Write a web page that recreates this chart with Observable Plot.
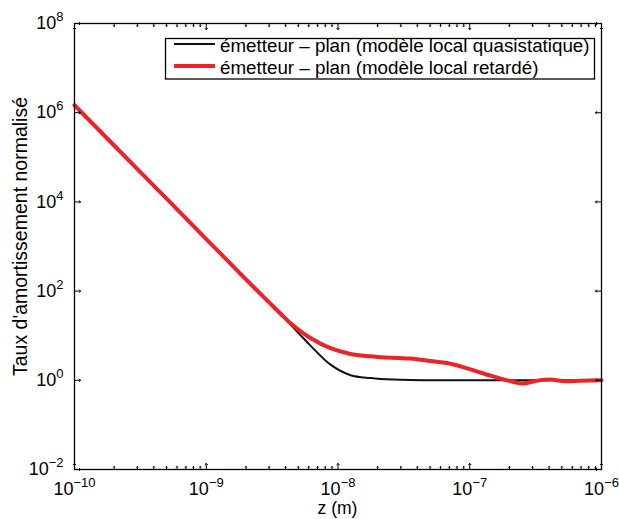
<!DOCTYPE html>
<html>
<head>
<meta charset="utf-8">
<script src="https://cdn.jsdelivr.net/npm/d3@7"></script>
<script src="https://cdn.jsdelivr.net/npm/@observablehq/plot@0.6"></script>
<style>
  body { margin: 0; background: #fff; }
  #wrap { position: relative; width: 619px; height: 519px; overflow: hidden; }
  #wrap svg { position: absolute; left: 0; top: 0; }
</style>
</head>
<body>
<div id="wrap"></div>
<script>
// ---- data ----
const blackZ    = [1e-10, 2e-10, 5e-10, 1e-9, 2e-9, 3e-9, 3.86e-9, 4.36e-9, 6.18e-9, 8.77e-9, 1.245e-8, 1.767e-8, 2.1e-8, 3.55e-8, 7.15e-8, 1.5e-7, 3e-7, 6e-7, 1e-6];
const blackRate = [1.47e6, 1.84e5, 1.18e4, 1470, 184, 55, 25.7, 17.8, 6.0, 2.24, 1.3, 1.12, 1.07, 1.014, 1.0, 1.0, 1.0, 1.0, 1.0];

const redZ    = [1e-10, 2e-10, 5e-10, 1e-9, 2e-9, 3e-9, 3.86e-9, 4.36e-9, 6.18e-9, 8.77e-9, 1.245e-8, 1.767e-8, 2.1e-8, 3.55e-8, 5.03e-8, 7.15e-8, 1.01e-7, 1.44e-7, 2.04e-7, 2.5e-7, 3.25e-7, 4.1e-7, 5.1e-7, 6.9e-7, 1e-6];
const redRate = [1.47e6, 1.84e5, 1.18e4, 1470, 184, 56, 26.8, 19.1, 8.9, 5.25, 3.9, 3.45, 3.3, 3.07, 2.7, 2.34, 1.76, 1.27, 0.955, 0.85, 0.98, 1.04, 0.96, 0.98, 1.0];

const xExponents = [-10, -9, -8, -7, -6];
const yExponents = [-2, 0, 2, 4, 6, 8];
const minorMultipliers = [2, 3, 4, 5, 6, 7, 8, 9];

const legendLabels = ["émetteur – plan (modèle local quasistatique)", "émetteur – plan (modèle local retardé)"];
const seriesColors = ["#111111", "#ec2329"];
const xTitle = "z (m)";
const yTitle = "Taux d'amortissement normalisé";

// ---- build tables ----
const black = blackZ.map((z, i) => ({z, rate: blackRate[i]}));
const red = redZ.map((z, i) => ({z, rate: redRate[i]}));
const xMajor = xExponents.map(e => Math.pow(10, e));
const yMajor = yExponents.map(e => Math.pow(10, e));
const xMinor = xExponents.slice(0, -1).flatMap(e => minorMultipliers.map(m => m * Math.pow(10, e)));
const expFmt = d => "10^" + String(Math.round(Math.log10(d))).replace("-", "−");

const FONT = "'Liberation Sans', Arial, Helvetica, sans-serif";
const tickStyle = {stroke: "#000", strokeWidth: 1, anchor: "start"};

const chart = Plot.plot({
  width: 619,
  height: 519,
  marginLeft: 74,
  marginRight: 18,
  marginTop: 23,
  marginBottom: 50,
  style: {fontFamily: FONT, fontSize: "18px", color: "#000", background: "transparent"},
  x: {type: "log", domain: [1e-10, 1e-6]},
  y: {type: "log", domain: [1e-2, 1e8]},
  marks: [
    Plot.line(black, {x: "z", y: "rate", stroke: seriesColors[0], strokeWidth: 2, curve: "catmull-rom"}),
    Plot.line(red, {x: "z", y: "rate", stroke: seriesColors[1], strokeWidth: 4, curve: "catmull-rom"}),
    // inward ticks (MATLAB style)
    Plot.vector(xMajor, {x: d => d, frameAnchor: "bottom", length: 6, rotate: 0, ...tickStyle}),
    Plot.vector(xMajor, {x: d => d, frameAnchor: "top", length: 6, rotate: 180, ...tickStyle}),
    Plot.vector(xMinor, {x: d => d, frameAnchor: "bottom", length: 3, rotate: 0, ...tickStyle}),
    Plot.vector(xMinor, {x: d => d, frameAnchor: "top", length: 3, rotate: 180, ...tickStyle}),
    Plot.vector(yMajor, {y: d => d, frameAnchor: "left", length: 6, rotate: 90, ...tickStyle}),
    Plot.vector(yMajor, {y: d => d, frameAnchor: "right", length: 6, rotate: -90, ...tickStyle}),
    Plot.frame({stroke: "#000", strokeWidth: 1.3}),
    Plot.axisX(xMajor, {anchor: "bottom", tickSize: 0, tickPadding: 13, tickFormat: expFmt, label: null}),
    Plot.axisY(yMajor, {anchor: "left", tickSize: 0, tickPadding: 11, tickFormat: expFmt, label: null})
  ]
});

const ns = "http://www.w3.org/2000/svg";
// superscript exponents
chart.querySelectorAll("text").forEach(t => {
  const m = /^10\^(.+)$/.exec(t.textContent);
  if (!m) return;
  t.textContent = "10";
  const sup = document.createElementNS(ns, "tspan");
  sup.setAttribute("dy", "-0.62em");
  sup.setAttribute("style", "font-size:72%");
  sup.textContent = m[1];
  t.appendChild(sup);
});

// axis titles
const g = d3.select(chart).append("g").attr("font-family", FONT).attr("fill", "#000");
g.append("text").attr("x", 337.5).attr("y", 514).attr("font-size", 17.5).attr("text-anchor", "middle").text(xTitle);
g.append("text").attr("transform", "translate(27,236.5) rotate(-90)").attr("font-size", 19.5).attr("text-anchor", "middle").text(yTitle);

document.getElementById("wrap").appendChild(chart);

// legend overlay
const leg = d3.select("#wrap").append("svg")
  .attr("width", 619).attr("height", 100)
  .attr("font-family", FONT).attr("font-size", 18.8);
leg.append("rect").attr("x", 165.5).attr("y", 38.5).attr("width", 429).attr("height", 40.5)
  .attr("fill", "#fff").attr("stroke", "#000").attr("stroke-width", 1.3);
legendLabels.forEach((lab, i) => {
  const cy = 44 + i * 22;
  leg.append("line").attr("x1", 174).attr("x2", 215).attr("y1", cy).attr("y2", cy)
    .attr("stroke", seriesColors[i]).attr("stroke-width", i === 0 ? 2 : 4);
  leg.append("text").attr("x", 220).attr("y", cy + 7.5).attr("fill", "#000").text(lab);
});
</script>
</body>
</html>
